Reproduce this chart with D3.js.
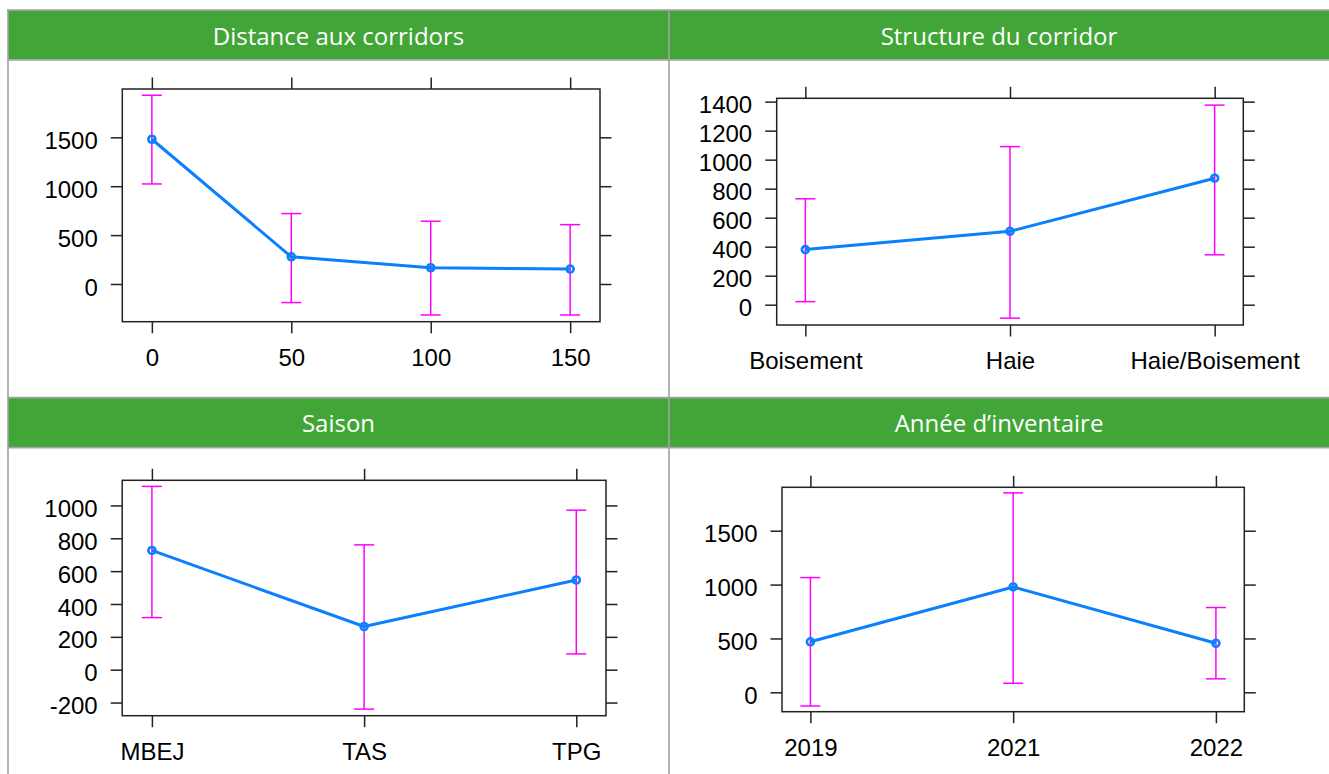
<!DOCTYPE html>
<html>
<head>
<meta charset="utf-8">
<script src="https://cdn.jsdelivr.net/npm/d3@7"></script>
<style>
  body { margin: 0; background: #fff; }
  svg { display: block; }
</style>
</head>
<body>
<svg id="chart" width="1329" height="774"></svg>
<script>
// Distance aux corridors (m)
const distanceLevels = [0, 50, 100, 150];
const distanceMean   = [1480, 278, 166, 153];
const distanceLower  = [1023, -190, -317, -317];
const distanceUpper  = [1930, 720, 642, 607];
const distanceTicks  = [0, 500, 1000, 1500];

// Structure du corridor
const structureLevels = ["Boisement", "Haie", "Haie/Boisement"];
const structureMean   = [380, 506, 872];
const structureLower  = [21, -93, 344];
const structureUpper  = [730, 1090, 1376];
const structureTicks  = [0, 200, 400, 600, 800, 1000, 1200, 1400];

// Saison
const saisonLevels = ["MBEJ", "TAS", "TPG"];
const saisonMean   = [726, 263, 546];
const saisonLower  = [317, -240, 96];
const saisonUpper  = [1116, 760, 971];
const saisonTicks  = [-200, 0, 200, 400, 600, 800, 1000];

// Année d'inventaire
const anneeLevels = ["2019", "2021", "2022"];
const anneeMean   = [469, 978, 455];
const anneeLower  = [-127, 84, 125];
const anneeUpper  = [1065, 1851, 787];
const anneeTicks  = [0, 500, 1000, 1500];

const svg = d3.select("#chart");

const GREEN = "#41a637";
const GRID = "#a2a2a2";
const LINE = "#0a80ff";
const BAR = "#ff00ff";
const AXIS = "#222";
const TICK = 11.5;

// Table frame: two rows of (header, body), two columns
const colX = [8, 669, 1329];
const rows = [
  { headTop: 10.5, headBot: 59.5, bodyBot: 397.7 },
  { headTop: 397.7, headBot: 447.7, bodyBot: 774 }
];

rows.forEach(r => {
  svg.append("rect")
    .attr("x", colX[0]).attr("y", r.headTop)
    .attr("width", colX[2] - colX[0]).attr("height", r.headBot - r.headTop)
    .attr("fill", GREEN);
});
[10.2, 60, 397.7, 447.7].forEach(y => {
  svg.append("line").attr("x1", colX[0] - 1).attr("x2", 1329)
    .attr("y1", y).attr("y2", y)
    .attr("stroke", GRID).attr("stroke-width", 1.7);
});
[colX[0], colX[1]].forEach(x => {
  svg.append("line").attr("x1", x).attr("x2", x)
    .attr("y1", 9.4).attr("y2", 774)
    .attr("stroke", GRID).attr("stroke-width", 1.6);
});

const panels = [
  {
    title: "Distance aux corridors", col: 0, row: 0,
    box: { l: 122.3, r: 600, t: 89, b: 321.7 },
    levels: distanceLevels, mean: distanceMean, lower: distanceLower, upper: distanceUpper,
    ticks: distanceTicks, yDomain: [-385.5, 1994], numeric: true, xDomain: [-10.6, 160.7]
  },
  {
    title: "Structure du corridor", col: 1, row: 0,
    box: { l: 776.7, r: 1243.3, t: 98.3, b: 325 },
    levels: structureLevels, mean: structureMean, lower: structureLower, upper: structureUpper,
    ticks: structureTicks, yDomain: [-140, 1423]
  },
  {
    title: "Saison", col: 0, row: 1,
    box: { l: 122.2, r: 606, t: 480.3, b: 715.7 },
    levels: saisonLevels, mean: saisonMean, lower: saisonLower, upper: saisonUpper,
    ticks: saisonTicks, yDomain: [-280, 1153]
  },
  {
    title: "Année d’inventaire", col: 1, row: 1,
    box: { l: 782, r: 1244.3, t: 487.3, b: 711.7 },
    levels: anneeLevels, mean: anneeMean, lower: anneeLower, upper: anneeUpper,
    ticks: anneeTicks, yDomain: [-180, 1903]
  }
];

// plain integer labels with an ASCII hyphen for negatives
const plain = d => String(d);

panels.forEach(p => {
  const r = rows[p.row];
  const cx = (colX[p.col] + colX[p.col + 1]) / 2;

  // header title
  svg.append("text")
    .attr("x", cx).attr("y", r.headTop + 34.5)
    .attr("text-anchor", "middle")
    .attr("font-family", "'Open Sans', sans-serif")
    .attr("font-size", 24)
    .attr("fill", "#fff")
    .text(p.title);

  const b = p.box;
  const x = p.numeric
    ? d3.scaleLinear().domain(p.xDomain).range([b.l, b.r])
    : d3.scalePoint().domain(p.levels).range([b.l, b.r]).padding(0.14);
  const y = d3.scaleLinear().domain(p.yDomain).range([b.b, b.t]);

  const g = svg.append("g");

  const styleAxis = sel => {
    sel.select(".domain").remove();
    sel.selectAll(".tick line").attr("stroke", AXIS).attr("stroke-width", 1.5);
    sel.selectAll(".tick text")
      .attr("fill", "#000")
      .attr("font-family", "'Liberation Sans', Arial, sans-serif")
      .attr("font-size", 24);
  };

  g.append("g").attr("transform", `translate(${b.l},0)`)
    .call(d3.axisLeft(y).tickValues(p.ticks).tickFormat(plain).tickSize(TICK).tickPadding(13))
    .call(styleAxis)
    .call(s => s.selectAll(".tick text").attr("dy", "0.46em"));

  g.append("g").attr("transform", `translate(${b.r},0)`)
    .call(d3.axisRight(y).tickValues(p.ticks).tickSize(TICK).tickFormat(""))
    .call(styleAxis);

  g.append("g").attr("transform", `translate(0,${b.b})`)
    .call(d3.axisBottom(x).tickValues(p.levels).tickFormat(plain).tickSize(TICK).tickPadding(15.8))
    .call(styleAxis);

  g.append("g").attr("transform", `translate(0,${b.t})`)
    .call(d3.axisTop(x).tickValues(p.levels).tickSize(TICK).tickFormat(""))
    .call(styleAxis);

  g.append("rect")
    .attr("x", b.l).attr("y", b.t)
    .attr("width", b.r - b.l).attr("height", b.b - b.t)
    .attr("fill", "none").attr("stroke", AXIS).attr("stroke-width", 1.5);

  // confidence intervals
  const bars = g.append("g").attr("stroke", BAR).attr("stroke-width", 1.5).attr("fill", "none");
  p.levels.forEach((lv, i) => {
    const px = x(lv);
    bars.append("line").attr("x1", px).attr("x2", px)
      .attr("y1", y(p.lower[i])).attr("y2", y(p.upper[i]));
    [p.lower[i], p.upper[i]].forEach(v => {
      bars.append("line").attr("x1", px - 10).attr("x2", px + 10)
        .attr("y1", y(v)).attr("y2", y(v));
    });
  });

  // fitted means
  const pts = p.levels.map((lv, i) => [x(lv), y(p.mean[i])]);
  g.append("path")
    .attr("d", d3.line()(pts))
    .attr("fill", "none").attr("stroke", LINE).attr("stroke-width", 3)
    .attr("stroke-linejoin", "round");
  g.selectAll(null).data(pts).enter().append("circle")
    .attr("cx", d => d[0]).attr("cy", d => d[1]).attr("r", 3.5)
    .attr("fill", "none").attr("stroke", LINE).attr("stroke-width", 2.6);
});
</script>
</body>
</html>
